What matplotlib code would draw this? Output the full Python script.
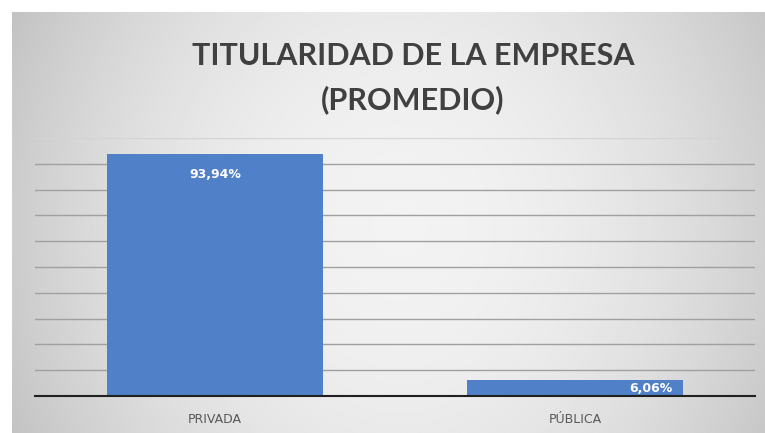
import matplotlib.pyplot as plt
import numpy as np

categories = ['PRIVADA', 'PÚBLICA']
values = [93.94, 6.06]
labels = ['93,94%', '6,06%']

W, H = 765, 433
fig = plt.figure(figsize=(W / 100, H / 100), dpi=100)
fig.patch.set_facecolor('white')

# gray radial backdrop of the chart area (white margin on top and left)
bg = fig.add_axes([12 / W, -0.02, (W - 12) / W + 0.03, (H - 12) / H + 0.02])
yy, xx = np.mgrid[-1:1:200j, -1:1:400j]
r = np.sqrt(xx ** 2 + (yy * 0.5) ** 2)
shade = 0.95 - 0.15 * np.clip(r, 0, 1.2) ** 2
bg.imshow(shade, cmap='gray', vmin=0, vmax=1, aspect='auto',
          extent=[0, 1, 0, 1], interpolation='bilinear')
bg.axis('off')

fig.text(0.54, 0.870, 'TITULARIDAD DE LA EMPRESA', ha='center', va='center',
         fontsize=22, fontweight='bold', color='#404040', family='Lato')
fig.text(0.54, 0.770, '(PROMEDIO)', ha='center', va='center',
         fontsize=22, fontweight='bold', color='#404040', family='Lato')

ax = fig.add_axes([35 / W, 1 - 396 / H, 720 / W, 258 / H])
ax.patch.set_alpha(0)
x = np.arange(len(categories))
bars = ax.bar(x, values, width=0.6, color='#5080c8', zorder=3)
ax.set_xlim(-0.5, 1.5)
ax.set_ylim(0, 100)
ax.set_yticks(np.arange(10, 100, 10))
ax.yaxis.grid(True, color='#a0a0a0', linewidth=1.0, zorder=0)
ax.axhline(100, color='#d4d4d4', linewidth=1.0, zorder=0)
ax.tick_params(axis='y', left=False, labelleft=False)
ax.tick_params(axis='x', length=0, pad=12, labelsize=9, labelcolor='#595959')
ax.set_xticks(x)
ax.set_xticklabels(categories)
for s in ['top', 'right', 'left']:
    ax.spines[s].set_visible(False)
ax.spines['bottom'].set_color('#202020')
ax.spines['bottom'].set_linewidth(1.5)
ax.spines['bottom'].set_zorder(4)

# value labels inside the bars
ax.text(x[0], values[0] - 8.0, labels[0], ha='center', va='center',
        color='white', fontsize=9, fontweight='bold', zorder=5)
ax.text(x[1] + 0.27, values[1] / 2, labels[1], ha='right', va='center',
        color='white', fontsize=9, fontweight='bold', zorder=5)

fig.savefig('out.png', dpi=100)
